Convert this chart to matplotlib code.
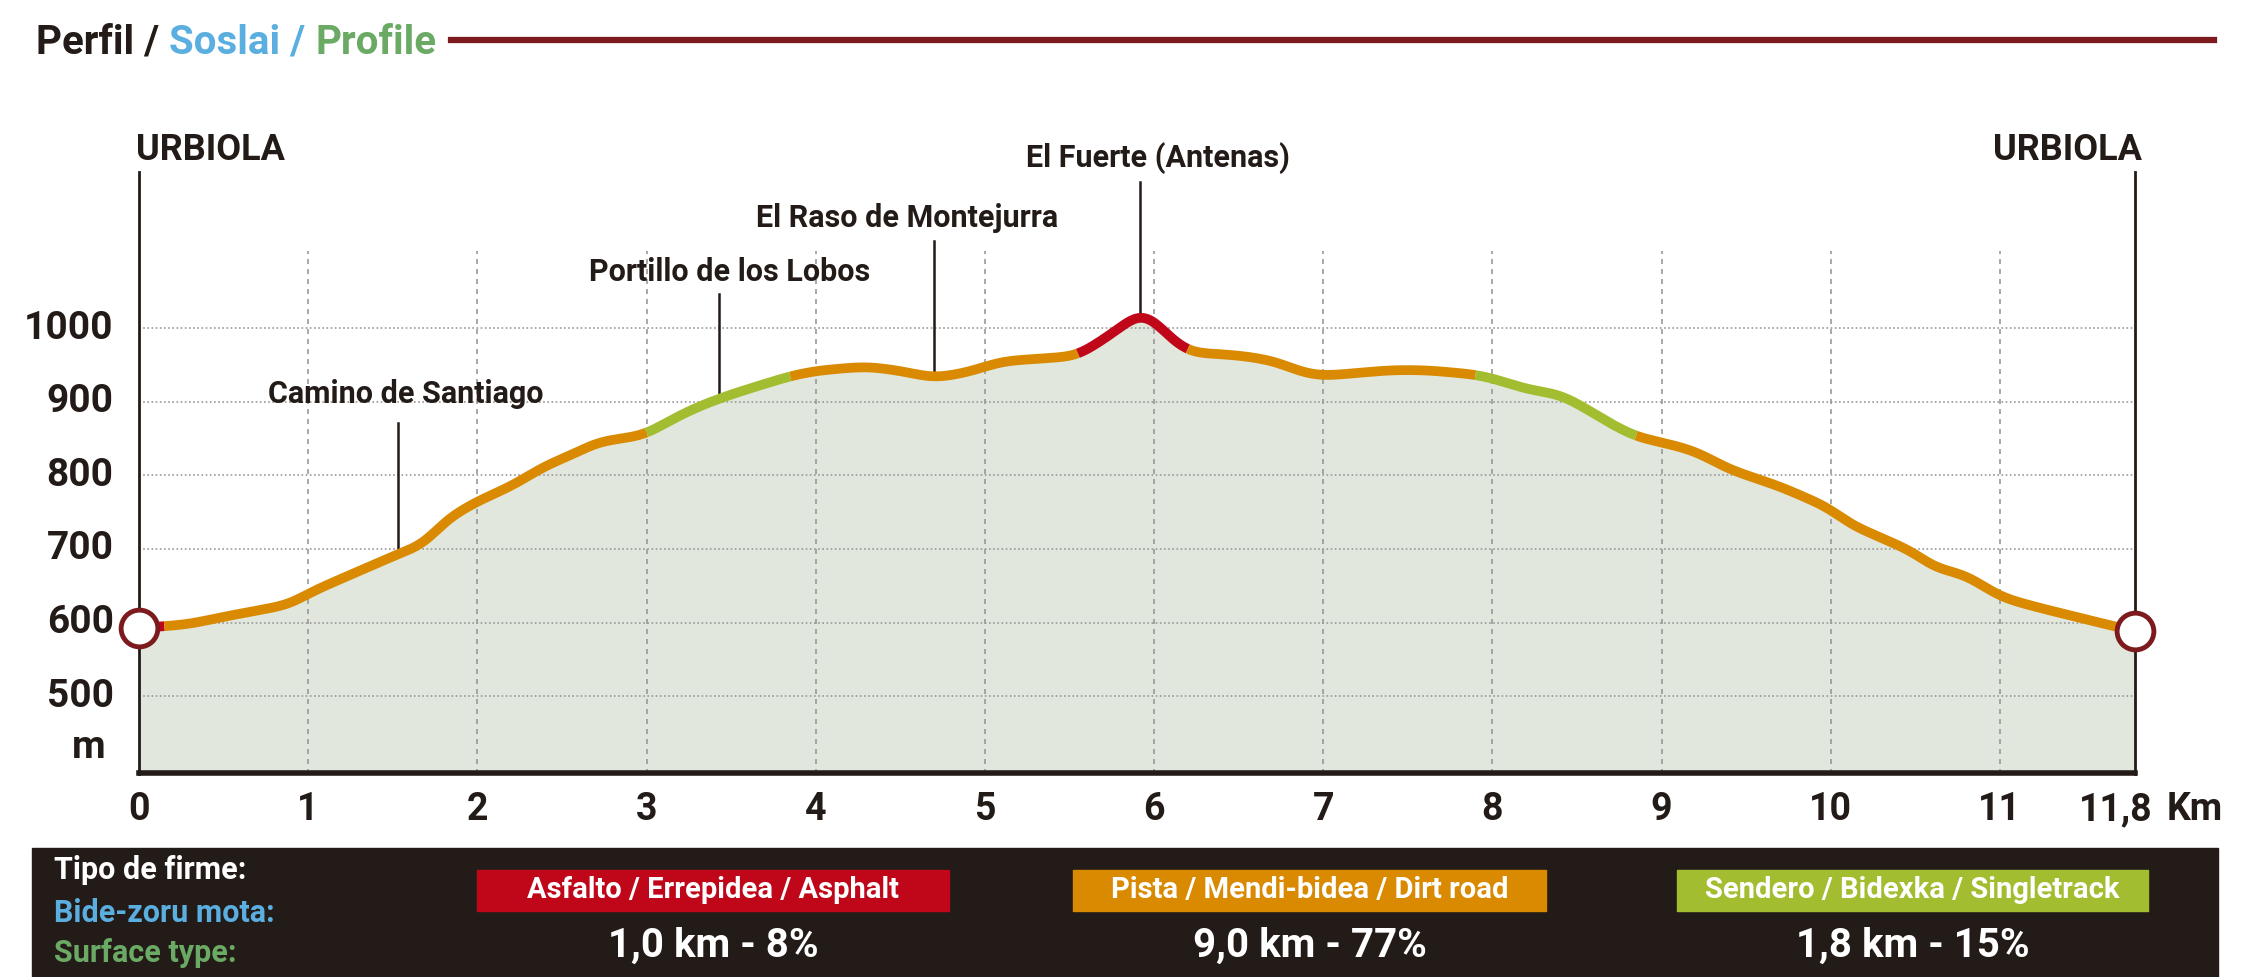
import matplotlib
matplotlib.use("Agg")
import matplotlib.pyplot as plt
from matplotlib.patches import Rectangle
import numpy as np

km = [0, 0.15, 0.3, 0.5, 0.9, 1.0, 1.2, 1.5, 1.7, 1.8, 2.0, 2.2, 2.4, 2.6, 2.7, 3.0, 3.1, 3.3, 3.5, 3.85,
      4.0, 4.3, 4.5, 4.7, 4.9, 5.1, 5.55, 5.8, 5.92, 6.0, 6.1, 6.2, 6.5, 6.7, 6.9, 7.0, 7.4, 7.6, 7.9,
      8.0, 8.2, 8.4, 8.5, 8.7, 8.85, 9.0, 9.2, 9.4, 9.7, 10.0, 10.1, 10.3, 10.5, 10.6, 10.8, 11.0, 11.2, 11.5, 11.8]
elev = [593, 595, 598, 608, 625, 640, 660, 690, 708, 738, 765, 785, 813, 832, 845, 855, 870, 893, 910, 935,
        942, 948, 942, 932, 940, 955, 962, 1000, 1024, 1012, 985, 967, 963, 956, 938, 935, 943, 943, 937,
        932, 917, 910, 898, 870, 852, 845, 833, 808, 785, 755, 735, 715, 695, 675, 665, 635, 622, 605, 588]
seg_breaks = [0, 0.15, 3.0, 3.85, 5.55, 6.2, 7.9, 8.85, 11.8]
seg_types = ["asf", "pista", "send", "pista", "asf", "pista", "send", "pista"]
colors = {"asf": "#c0071a", "pista": "#d98a00", "send": "#a3bd31"}
waypoints = [("Camino de Santiago", 1.53, 283, 275, 295),
             ("Portillo de los Lobos", 3.43, 509, 190, 205),
             ("El Raso de Montejurra", 4.7, 633, 152, 168),
             ("El Fuerte (Antenas)", 5.92, 808, 110, 127)]
yticks = [500, 600, 700, 800, 900, 1000]
xticks = [0, 1, 2, 3, 4, 5, 6, 7, 8, 9, 10, 11, 11.8]
xlabels = ["0", "1", "2", "3", "4", "5", "6", "7", "8", "9", "10", "11", "11,8"]
surf_names = ["Asfalto / Errepidea / Asphalt", "Pista / Mendi-bidea / Dirt road", "Sendero / Bidexka / Singletrack"]
surf_vals = ["1,0 km - 8%", "9,0 km - 77%", "1,8 km - 15%"]

plt.rcParams['font.family'] = ["Roboto", "DejaVu Sans"]
W, H = 1568, 682
fig = plt.figure(figsize=(22.47, 9.77), dpi=100)
def fx(x): return x / W
def fy(y): return 1 - y / H

ax = fig.add_axes([fx(97), fy(540), fx(1490) - fx(97), fy(85) - fy(540)])
ax.set_xlim(0, 11.8)
ymin = 395
ymax = 1000 + (229 - 85) / 0.514
ax.set_ylim(ymin, ymax)
ax.axis("off")
gtop = 1105
xs = np.linspace(0, 11.8, 2361)
ys_lin = np.interp(xs, km, elev)
# smooth rendering of the polyline
k = np.exp(-0.5 * (np.arange(-40, 41) / 14.0) ** 2); k /= k.sum()
pad = np.concatenate([np.full(40, ys_lin[0]), ys_lin, np.full(40, ys_lin[-1])])
ys = np.convolve(pad, k, mode="valid")
ax.fill_between(xs, ymin, ys, color="#e1e7dc", zorder=1)
for t in yticks:
    ax.plot([0, 11.8], [t, t], color="#999999", lw=1.2, ls=(0, (1, 1.5)), zorder=2)
for t in range(1, 12):
    ax.plot([t, t], [ymin, gtop], color="#999999", lw=1.2, ls=(0, (3, 3)), zorder=2)
for i, tp in enumerate(seg_types):
    a, b = seg_breaks[i], seg_breaks[i + 1]
    m = (xs >= a) & (xs <= b)
    ax.plot(xs[m], ys[m], color=colors[tp], lw=7, solid_capstyle="butt", zorder=4)
ax.plot([0, 11.8], [ymin + 1, ymin + 1], color="#231b17", lw=4, zorder=5, clip_on=False)
top_line = 1000 + (229 - 120) / 0.514
ax.plot([0, 0], [ymin, top_line], color="#231b17", lw=2, zorder=3, clip_on=False)
ax.plot([11.8, 11.8], [ymin, top_line], color="#231b17", lw=2, zorder=3, clip_on=False)
ax.scatter([km[0], km[-1]], [elev[0], elev[-1]], s=700, facecolor="white", edgecolor="#7d1a1e",
           lw=3.5, zorder=6, clip_on=False)

for name, kk, tx, ty, ly in waypoints:
    e = np.interp(kk, xs, ys)
    ax.plot([kk, kk], [e, 1000 + (229 - ly) / 0.514], color="#231b17", lw=1.8, zorder=3)
    fig.text(fx(tx), fy(ty), name, ha="center", va="center", fontsize=22, fontweight="bold", color="#231b17")
fig.text(fx(95), fy(105), "URBIOLA", ha="left", va="center", fontsize=26, fontweight="bold", color="#231b17")
fig.text(fx(1495), fy(105), "URBIOLA", ha="right", va="center", fontsize=26, fontweight="bold", color="#231b17")

for t in yticks:
    ax.text(-0.15, t, str(t), ha="right", va="center", fontsize=28, fontweight="bold", color="#231b17")
ax.text(-0.3, 500 - (522 - 486) / 0.514, "m", ha="center", va="center", fontsize=28, fontweight="bold", color="#231b17")
for t, l in zip(xticks, xlabels):
    if l == "11,8":
        ax.text(t + 0.1, ymin - 25 / 0.514, l, ha="right", va="center", fontsize=27, fontweight="bold", color="#231b17")
    else:
        ax.text(t, ymin - 25 / 0.514, l, ha="center", va="center", fontsize=27, fontweight="bold", color="#231b17")
fig.text(fx(1512), fy(565), "Km", ha="left", va="center", fontsize=27, fontweight="bold", color="#231b17")

# title
fig.canvas.draw()
r = fig.canvas.get_renderer()
x = fx(25)
for s, c in [("Perfil / ", "#231b17"), ("Soslai / ", "#5aaee0"), ("Profile", "#6aaa64")]:
    t = fig.text(x, fy(30), s, ha="left", va="center", fontsize=29, fontweight="bold", color=c)
    bb = t.get_window_extent(r)
    x += bb.width / fig.bbox.width
fig.add_artist(plt.Line2D([fx(315), fx(1545)], [fy(28), fy(28)], color="#7d1a1e", lw=4.5))

# bottom band
fig.add_artist(Rectangle((fx(22), 0), fx(1548) - fx(22), fy(592), color="#231b17"))
fig.text(fx(38), fy(607), "Tipo de firme:", ha="left", va="center", fontsize=22, fontweight="bold", color="white")
fig.text(fx(38), fy(637), "Bide-zoru mota:", ha="left", va="center", fontsize=22, fontweight="bold", color="#5aaee0")
fig.text(fx(38), fy(665), "Surface type:", ha="left", va="center", fontsize=22, fontweight="bold", color="#6aaa64")
boxes = [(333, 662, "asf"), (749, 1079, "pista"), (1170, 1499, "send")]
for (x0, x1, tp), nm, v in zip(boxes, surf_names, surf_vals):
    fig.add_artist(Rectangle((fx(x0), fy(636)), fx(x1) - fx(x0), fy(607) - fy(636), color=colors[tp]))
    fig.text(fx((x0 + x1) / 2), fy(621), nm, ha="center", va="center", fontsize=21, fontweight="bold", color="white")
    fig.text(fx((x0 + x1) / 2), fy(660), v, ha="center", va="center", fontsize=29, fontweight="bold", color="white")

fig.savefig("out.png", dpi=100, facecolor="white")
